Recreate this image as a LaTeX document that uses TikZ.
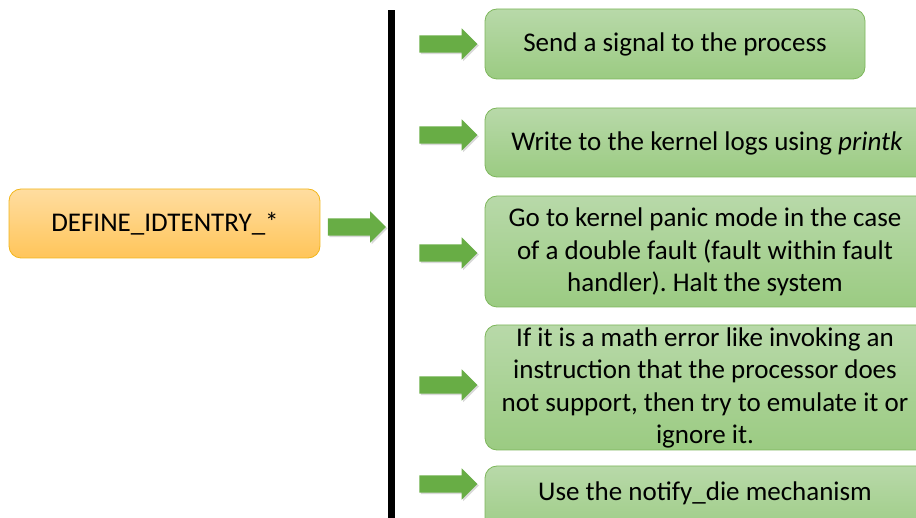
\documentclass[tikz,border=0pt]{standalone}
\usepackage{fontspec}
\setmainfont{Carlito}
\usetikzlibrary{shapes.arrows,shadows}
\frenchspacing
\definecolor{gtop}{HTML}{B8D9A9}
\definecolor{gbot}{HTML}{9BCB82}
\definecolor{gborder}{HTML}{7DB65B}
\definecolor{otop}{HTML}{FFDDA0}
\definecolor{obot}{HTML}{FFC55A}
\definecolor{oborder}{HTML}{F2B61B}
\definecolor{arrowg}{HTML}{68AD45}
\tikzset{
  gbox/.style={draw=gborder, line width=0.8pt, rounded corners=12pt, top color=gtop, bottom color=gbot},
  obox/.style={draw=oborder, line width=0.8pt, rounded corners=12pt, top color=otop, bottom color=obot},
  txt/.style={font=\fontsize{27}{32.5}\selectfont, align=center, inner sep=0pt},
  garrow/.style={single arrow, fill=arrowg, draw=none, minimum height=58pt, inner xsep=0pt, inner ysep=8.5pt, single arrow head extend=7pt, single arrow head indent=0pt, single arrow tip angle=90, drop shadow={shadow xshift=1.5pt, shadow yshift=-1.5pt, opacity=0.3}}
}
\begin{document}
\begin{tikzpicture}[x=1pt,y=1pt]
\useasboundingbox (0,0) rectangle (916,-518);
\clip (0,0) rectangle (916,-518);
% left box
\draw[obox] (9,-189) rectangle (320,-258);
\node[txt] (src) at (165,-224) {DEFINE\_IDTENTRY\_*};
% vertical bar
\fill (388,-10) rectangle (395,-520);
% arrow from source
\node[garrow] (a0) at (352.5,-227) {};
% green boxes
\draw[gbox] (485,-9) rectangle (865,-79);
\node[txt] (b1) at (675,-44.5) {Send a signal to the process};
\draw[gbox] (485,-108) rectangle (930,-177);
\node[txt] (b2) at (707,-143) {Write to the kernel logs using \textit{printk}};
\draw[gbox] (485,-196) rectangle (930,-307);
\node[txt] (b3) at (705,-252) {Go to kernel panic mode in the case\\of a double fault (fault within fault\\handler). Halt the system};
\draw[gbox] (485,-325) rectangle (930,-450);
\node[txt] (b4) at (705,-388) {If it is a math error like invoking an\\instruction that the processor does\\not support, then try to emulate it or\\ignore it.};
\draw[gbox] (485,-466) rectangle (930,-540);
\node[txt] (b5) at (705,-493.5) {Use the notify\_die mechanism};
% arrows
\node[garrow] (a1) at (444,-44) {};
\node[garrow] (a2) at (444,-135) {};
\node[garrow] (a3) at (444,-253) {};
\node[garrow] (a4) at (444,-385) {};
\node[garrow] (a5) at (444,-484) {};
\end{tikzpicture}
\end{document}
